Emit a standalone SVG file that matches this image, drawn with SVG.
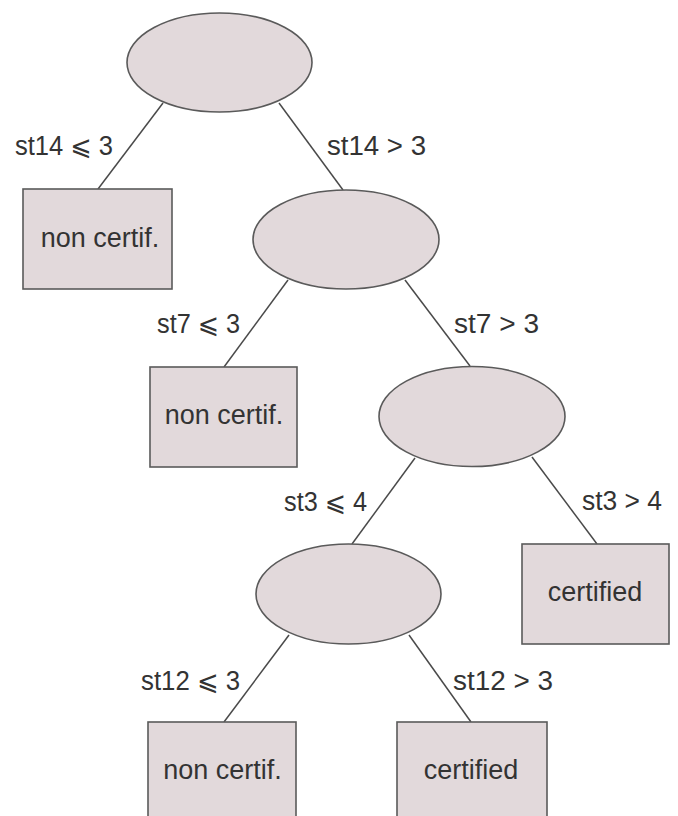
<svg xmlns="http://www.w3.org/2000/svg" width="678" height="816" viewBox="0 0 678 816">
<style>
.node{fill:#e2d9db;stroke:#5a5a5a;stroke-width:1.6}
.edge{stroke:#4a4a4a;stroke-width:1.5;fill:none}
text{font-family:"Liberation Sans",Arial,"DejaVu Sans",sans-serif;font-size:27px;fill:#333}
.c{text-anchor:middle}
</style>
<rect width="678" height="816" fill="#ffffff"/>
<g id="connectors">
<line class="edge" x1="163" y1="103" x2="98" y2="189"/>
<line class="edge" x1="279" y1="103" x2="343" y2="190"/>
<line class="edge" x1="288" y1="280" x2="224" y2="367"/>
<line class="edge" x1="405" y1="280" x2="470" y2="366"/>
<line class="edge" x1="415" y1="458" x2="352" y2="544"/>
<line class="edge" x1="532" y1="457" x2="597" y2="544"/>
<line class="edge" x1="289" y1="635" x2="224" y2="722"/>
<line class="edge" x1="409" y1="635" x2="471" y2="722"/>
<text x="15" y="155" textLength="98" lengthAdjust="spacingAndGlyphs">st14 ⩽ 3</text>
<text x="327" y="155" textLength="99" lengthAdjust="spacingAndGlyphs">st14 &gt; 3</text>
<text x="157" y="333" textLength="83" lengthAdjust="spacingAndGlyphs">st7 ⩽ 3</text>
<text x="454" y="333" textLength="85" lengthAdjust="spacingAndGlyphs">st7  &gt; 3</text>
<text x="284" y="511" textLength="83" lengthAdjust="spacingAndGlyphs">st3 ⩽ 4</text>
<text x="582" y="510" textLength="80" lengthAdjust="spacingAndGlyphs">st3 &gt; 4</text>
<text x="141" y="690" textLength="99" lengthAdjust="spacingAndGlyphs">st12 ⩽ 3</text>
<text x="453" y="690" textLength="100" lengthAdjust="spacingAndGlyphs">st12 &gt; 3</text>
</g>
<g id="n1"><ellipse class="node" cx="219.5" cy="62.5" rx="92.5" ry="49.5"/></g>
<g id="n2"><ellipse class="node" cx="346" cy="239.5" rx="93" ry="49.5"/></g>
<g id="n3"><ellipse class="node" cx="472" cy="416.5" rx="93" ry="50"/></g>
<g id="n4"><ellipse class="node" cx="348.5" cy="594" rx="92.5" ry="50"/></g>
<g id="leaf1"><rect class="node" x="23" y="189" width="149" height="100"/><text class="c" x="100" y="247">non certif.</text></g>
<g id="leaf2"><rect class="node" x="150" y="367" width="147" height="100"/><text class="c" x="224" y="424">non certif.</text></g>
<g id="leaf3"><rect class="node" x="522" y="544" width="147" height="100"/><text class="c" x="595" y="601">certified</text></g>
<g id="leaf4"><rect class="node" x="148" y="722" width="148" height="100"/><text class="c" x="222.5" y="779">non certif.</text></g>
<g id="leaf5"><rect class="node" x="397" y="722" width="150" height="100"/><text class="c" x="471" y="779">certified</text></g>
</svg>
